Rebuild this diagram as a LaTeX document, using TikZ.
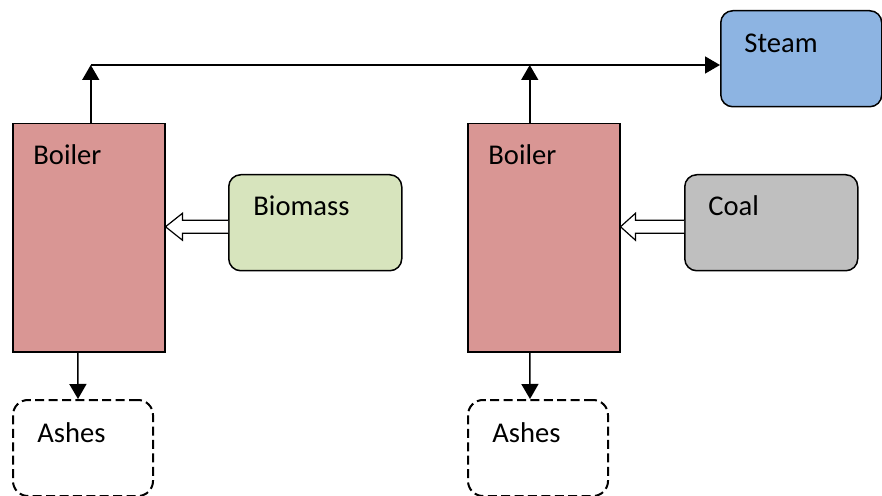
\documentclass[tikz,border=0pt]{standalone}
\usepackage{fontspec}
\setmainfont{Carlito}
\usetikzlibrary{arrows.meta,calc}
\definecolor{boilfill}{HTML}{D99694}
\definecolor{biofill}{HTML}{D7E4BD}
\definecolor{coalfill}{HTML}{BFBFBF}
\definecolor{steamfill}{HTML}{8DB4E2}
\begin{document}
\begin{tikzpicture}[x=0.5pt,y=-0.5pt,
  box/.style={draw=black, line width=0.75pt, rectangle, inner sep=0pt, anchor=north west},
  boilerbox/.style={box, fill=boilfill, minimum width=76pt, minimum height=114pt},
  feedbox/.style={box, rounded corners=6pt, minimum width=86.5pt, minimum height=48pt},
  ashbox/.style={box, line width=1pt, dash pattern=on 4.5pt off 2.2pt, rounded corners=7.5pt, minimum width=70pt, minimum height=48pt},
  lbl/.style={anchor=base west, inner sep=0pt, font=\fontsize{14.3}{17}\selectfont},
  arr/.style={line width=0.75pt, -{Triangle[length=7.5pt,width=8.5pt]}},
  hollow/.style={draw=black, fill=white, line width=0.6pt, line join=miter}]
\useasboundingbox (0,0) rectangle (882,496);
% boxes
\node[boilerbox] (boilA) at (12,123) {};
\node[boilerbox] (boilB) at (467,123) {};
\node[feedbox, fill=biofill] (bio) at (228,174) {};
\node[feedbox, fill=coalfill] (coal) at (684,174) {};
\node[feedbox, fill=steamfill, minimum width=80.5pt] (steam) at (720,10) {};
\node[ashbox] (ashA) at (12,399) {};
\node[ashbox] (ashB) at (467,399) {};
% labels
\node[lbl] (tboilA) at (33,165) {Boiler};
\node[lbl] (tboilB) at (488,165) {Boiler};
\node[lbl] (tbio) at (253,216) {Biomass};
\node[lbl] (tcoal) at (708,216) {Coal};
\node[lbl] (tsteam) at (744,53) {Steam};
\node[lbl] (tashA) at (37,442) {Ashes};
\node[lbl] (tashB) at (492,442) {Ashes};
% steam header
\coordinate (jA) at ($(boilA.north)+(2,-58)$);
\coordinate (jB) at ($(boilB.north)+(-14,-58)$);
\draw[arr] ($(boilA.north)+(2,0)$) -- (jA);
\draw[arr] ($(boilB.north)+(-14,0)$) -- (jB);
\draw[arr] (jA) -- (steam.west |- jA);
% ashes
\draw[arr] ($(boilA.south)+(-11,0)$) -- ($(ashA.north)+(-5,0)$);
\draw[arr] ($(boilB.south)+(-14,0)$) -- ($(ashB.north)+(-8,0)$);
% hollow feed arrows
\path (bio.west) ++(0,4) coordinate (sA) (boilA.east |- sA) coordinate (tA);
\draw[hollow] ($(sA)+(0,-6.5)$) -- ($(tA)+(17,-6.5)$) -- ($(tA)+(17,-13.5)$) -- (tA)
  -- ($(tA)+(17,13.5)$) -- ($(tA)+(17,6.5)$) -- ($(sA)+(0,6.5)$);
\path (coal.west) ++(0,4) coordinate (sB) (boilB.east |- sB) coordinate (tB);
\draw[hollow] ($(sB)+(0,-6.5)$) -- ($(tB)+(15,-6.5)$) -- ($(tB)+(15,-13.5)$) -- (tB)
  -- ($(tB)+(15,13.5)$) -- ($(tB)+(15,6.5)$) -- ($(sB)+(0,6.5)$);
\end{tikzpicture}
\end{document}
